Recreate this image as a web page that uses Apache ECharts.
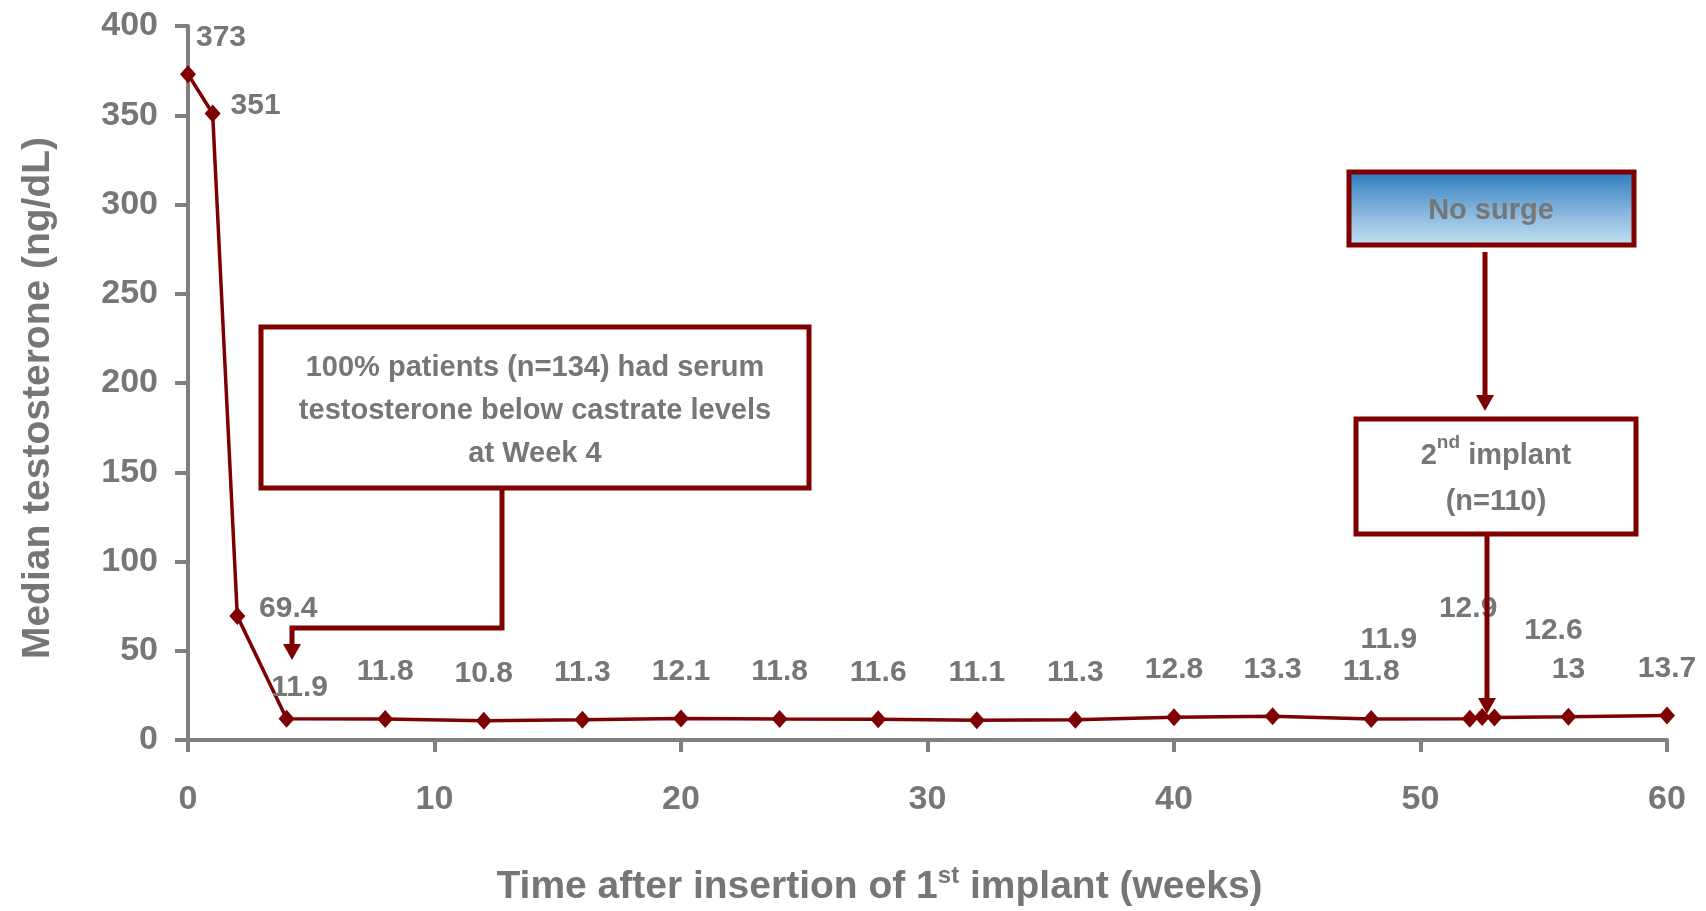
<!DOCTYPE html>
<html>
<head>
<meta charset="utf-8">
<script src="https://cdn.jsdelivr.net/npm/echarts@6/dist/echarts.min.js"></script>
<style>
  html, body { margin: 0; padding: 0; background: #ffffff; }
  #chart { width: 1706px; height: 911px; }
</style>
</head>
<body>
<div id="chart"></div>
<script>
// Weeks after insertion of the first implant
const weeks = [0, 1, 2, 4, 8, 12, 16, 20, 24, 28, 32, 36, 40, 44, 48, 52, 52.5, 53, 56, 60];
// Median serum testosterone (ng/dL)
const testosterone = [373, 351, 69.4, 11.9, 11.8, 10.8, 11.3, 12.1, 11.8, 11.6, 11.1, 11.3, 12.8, 13.3, 11.8, 11.9, 12.9, 12.6, 13, 13.7];
// Axis ticks
const yTicks = [0, 50, 100, 150, 200, 250, 300, 350, 400];
const xTicks = [0, 10, 20, 30, 40, 50, 60];

const FONT = "'Liberation Sans', Arial, sans-serif";
const GREY = '#767676';
const RED = '#7f0000';

// Label placement (centre of label relative to its marker)
const labelShift = { 0: [33, -36], 1: [43, -8], 2: [51, -7], 3: [13, -31], 15: [-81, -79], 16: [-14, -108], 17: [59, -87] };

const seriesData = weeks.map((w, i) => ({
  value: [w, testosterone[i]],
  label: { offset: labelShift[i] || [0, -47] }
}));

const chart = echarts.init(document.getElementById('chart'));

chart.setOption({
  animation: false,
  grid: { left: 188, right: 39, top: 26, bottom: 171, outerBoundsMode: 'none', containLabel: false },
  xAxis: {
    type: 'value',
    min: xTicks[0], max: xTicks[xTicks.length - 1], interval: 10,
    splitLine: { show: false },
    axisLine: { lineStyle: { color: '#808080', width: 4 } },
    axisTick: { lineStyle: { color: '#808080', width: 4 }, length: 12 },
    axisLabel: { color: GREY, fontFamily: FONT, fontWeight: 'bold', fontSize: 34, margin: 43 },
    name: '{a|Time after insertion of 1}{s|st}{a| implant (weeks)}',
    nameLocation: 'middle',
    nameGap: 124,
    nameMoveOverlap: false,
    nameTextStyle: {
      padding: [0, 96, 0, 0],
      rich: {
        a: { color: GREY, fontFamily: FONT, fontWeight: 'bold', fontSize: 39, lineHeight: 46 },
        s: { color: GREY, fontFamily: FONT, fontWeight: 'bold', fontSize: 24, lineHeight: 46, verticalAlign: 'top', padding: [0, 0, 16, 0] }
      }
    }
  },
  yAxis: {
    type: 'value',
    min: yTicks[0], max: yTicks[yTicks.length - 1], interval: 50,
    splitLine: { show: false },
    axisLine: { show: true, lineStyle: { color: '#808080', width: 4 } },
    axisTick: { show: true, lineStyle: { color: '#808080', width: 4 }, length: 13 },
    axisLabel: { color: GREY, fontFamily: FONT, fontWeight: 'bold', fontSize: 34, margin: 30 },
    name: 'Median testosterone (ng/dL)',
    nameLocation: 'middle',
    nameGap: 130,
    nameMoveOverlap: false,
    nameTextStyle: { color: GREY, fontFamily: FONT, fontWeight: 'bold', fontSize: 39, padding: [0, 30, 0, 0] }
  },
  series: [{
    type: 'line',
    data: seriesData,
    symbol: 'diamond',
    symbolSize: [16, 18],
    lineStyle: { color: RED, width: 3.5 },
    itemStyle: { color: RED },
    label: {
      show: true,
      position: 'inside',
      formatter: p => String(p.value[1]),
      color: GREY, fontFamily: FONT, fontWeight: 'bold', fontSize: 30
    }
  }]
});

// Callout boxes and arrows
function arrowHead(x, tipY) {
  return {
    type: 'polygon',
    shape: { points: [[x - 9, tipY - 16], [x + 9, tipY - 16], [x, tipY]] },
    style: { fill: RED },
    z: 100
  };
}
function stem(points) {
  return { type: 'polyline', shape: { points: points }, style: { stroke: RED, lineWidth: 5, fill: null }, z: 100 };
}
const boxTextStyle = { fill: GREY, fontFamily: FONT, fontWeight: 'bold', fontSize: 29 };

chart.setOption({
  graphic: [
    // Week-4 castrate level callout
    { type: 'rect', shape: { x: 261, y: 327, width: 548, height: 161 },
      style: { fill: '#ffffff', stroke: RED, lineWidth: 5 }, z: 100 },
    { type: 'text', x: 535, y: 411, z: 101,
      style: Object.assign({ text: '100% patients (n=134) had serum\ntestosterone below castrate levels\nat Week 4',
        align: 'center', verticalAlign: 'middle', lineHeight: 43 }, boxTextStyle) },
    stem([[502, 490], [502, 628], [292, 628], [292, 644]]),
    arrowHead(292, 660),

    // No surge box
    { type: 'rect', shape: { x: 1349, y: 172, width: 285, height: 73 },
      style: {
        fill: new echarts.graphic.LinearGradient(0, 0, 0, 1, [
          { offset: 0, color: '#2777bd' }, { offset: 0.5, color: '#7fb1da' }, { offset: 1, color: '#c9e3f3' }
        ]),
        stroke: RED, lineWidth: 5 }, z: 100 },
    { type: 'text', x: 1491, y: 211, z: 101,
      style: Object.assign({ text: 'No surge', align: 'center', verticalAlign: 'middle' }, boxTextStyle) },
    stem([[1485, 252], [1485, 396]]),
    arrowHead(1485, 411),

    // Second implant box
    { type: 'rect', shape: { x: 1356, y: 419, width: 280, height: 115 },
      style: { fill: '#ffffff', stroke: RED, lineWidth: 5 }, z: 100 },
    { type: 'text', x: 1496, y: 479, z: 101,
      style: {
        text: '{a|2}{s|nd}{a| implant}\n{a|(n=110)}',
        align: 'center', verticalAlign: 'middle',
        rich: {
          a: Object.assign({ lineHeight: 46 }, boxTextStyle),
          s: { fill: GREY, fontFamily: FONT, fontWeight: 'bold', fontSize: 19, lineHeight: 46, verticalAlign: 'top', padding: [0, 0, 12, 0] }
        }
      } },
    stem([[1487, 534], [1487, 698]]),
    arrowHead(1487, 714)
  ]
});
</script>
</body>
</html>
